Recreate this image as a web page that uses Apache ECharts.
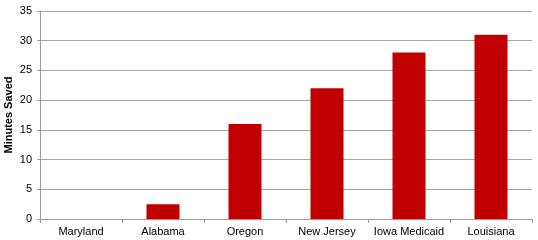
<!DOCTYPE html>
<html><head><meta charset="utf-8">
<script src="https://cdn.jsdelivr.net/npm/echarts@6/dist/echarts.min.js"></script>
<style>html,body{margin:0;padding:0;background:#fff}#c{width:538px;height:240px}</style>
</head><body><div id="c"></div>
<script>
const categories = ["Maryland", "Alabama", "Oregon", "New Jersey", "Iowa Medicaid", "Louisiana"];
const minutesSaved = [0, 2.5, 16, 22, 28, 31];
const yTicks = [0, 5, 10, 15, 20, 25, 30, 35];

const chart = echarts.init(document.getElementById('c'), null, {renderer: 'canvas'});
chart.setOption({
  animation: false,
  grid: {left: 40, right: 6, top: 11, bottom: 21, outerBoundsMode: 'none', containLabel: false},
  xAxis: {
    type: 'category', data: categories,
    axisLine: {lineStyle: {color: '#9a9a9a'}},
    axisTick: {show: true, length: 4, alignWithLabel: false, lineStyle: {color: '#9a9a9a'}},
    axisLabel: {interval: 0, color: '#000', fontFamily: 'Liberation Sans, Arial, sans-serif', fontSize: 11, margin: 7}
  },
  yAxis: {
    type: 'value', min: yTicks[0], max: yTicks[yTicks.length - 1], interval: 5,
    name: 'Minutes Saved', nameLocation: 'middle', nameGap: 26, nameMoveOverlap: false,
    nameTextStyle: {color: '#000', fontFamily: 'Liberation Sans, Arial, sans-serif', fontSize: 11, fontWeight: 'bold'},
    axisLine: {show: true, lineStyle: {color: '#9a9a9a'}},
    axisTick: {show: true, length: 3, lineStyle: {color: '#9a9a9a'}},
    splitLine: {lineStyle: {color: '#a6a6a6'}},
    axisLabel: {color: '#000', fontFamily: 'Liberation Sans, Arial, sans-serif', fontSize: 11, margin: 8}
  },
  series: [{
    type: 'bar', data: minutesSaved, barWidth: 33,
    itemStyle: {color: '#C00000'}
  }]
});
</script></body></html>
